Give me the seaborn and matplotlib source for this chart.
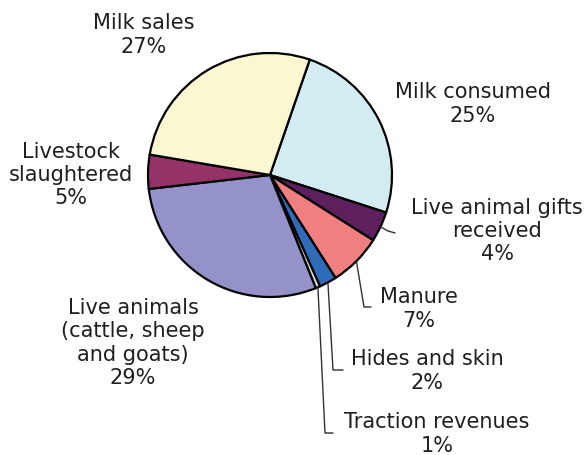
import matplotlib
matplotlib.use("Agg")
import matplotlib.pyplot as plt
import numpy as np
import seaborn as sns

# Share of livestock income by source (%)
categories = [
    "Milk consumed",
    "Live animal gifts\nreceived",
    "Manure",
    "Hides and skin",
    "Traction revenues",
    "Live animals\n(cattle, sheep\nand goats)",
    "Livestock\nslaughtered",
    "Milk sales",
]
shares = [24.7, 4.0, 7.0, 2.3, 0.6, 29.3, 4.5, 27.6]
pct_labels = ["25%", "4%", "7%", "2%", "1%", "29%", "5%", "27%"]
colors = ["#D3ECF1", "#5E1F5E", "#F17F80", "#2F6CB7", "#D9D9D9",
          "#9493C9", "#953368", "#FBF7D1"]

sns.set_theme(style="white")
plt.rcParams["font.family"] = ["DejaVu Sans"]

W, H = 587, 455
fig = plt.figure(figsize=(W / 100, H / 100), dpi=100)
ax = fig.add_axes([0, 0, 1, 1])
ax.set_aspect("equal")
ax.axis("off")

cx, cy, R = 270, 175, 122
start = 71.0  # degrees, counter-clockwise from east
wedges, _ = ax.pie(
    shares, colors=colors, startangle=start, counterclock=False,
    center=(cx, -cy), radius=R,
    wedgeprops=dict(edgecolor="black", linewidth=1.6),
)
# flip the pie into the top-down coordinate frame
for w in wedges:
    w.set_center((cx, cy))
    t1, t2 = w.theta1, w.theta2
    w.set_theta1(-t2)
    w.set_theta2(-t1)
ax.set_xlim(0, W)
ax.set_ylim(H, 0)


def edge_point(i):
    """Point on the rim at the middle of wedge i (screen coordinates)."""
    before = sum(shares[:i])
    mid = np.deg2rad(start - 360 * (before + shares[i] / 2) / 100)
    return cx + R * np.cos(mid), cy - R * np.sin(mid)


fs = 15
label_pos = {
    0: (473, 104),
    1: (497, 231),
    2: (419, 309),
    3: (427, 371),
    4: (437, 434),
    5: (133, 343),
    6: (71, 175),
    7: (144, 35),
}
for i, (x, y) in label_pos.items():
    ax.text(x, y, f"{categories[i]}\n{pct_labels[i]}", ha="center", va="center",
            fontsize=fs, color="#1f1f1f", linespacing=1.2)

lk = dict(color="#333333", linewidth=1.0)
# leader lines for the small slices
x0, y0 = edge_point(1)
ax.plot([x0, x0 + 7, 395], [y0, y0 + 4, 233], **lk)
x0, y0 = edge_point(2)
ax.plot([x0, 364, 371], [y0, 307, 307], **lk)
x0, y0 = edge_point(3)
ax.plot([x0, 333, 343], [y0, 370, 370], **lk)
x0, y0 = edge_point(4)
ax.plot([x0, 325, 333], [y0, 433, 433], **lk)

fig.savefig("out.png", dpi=100)
